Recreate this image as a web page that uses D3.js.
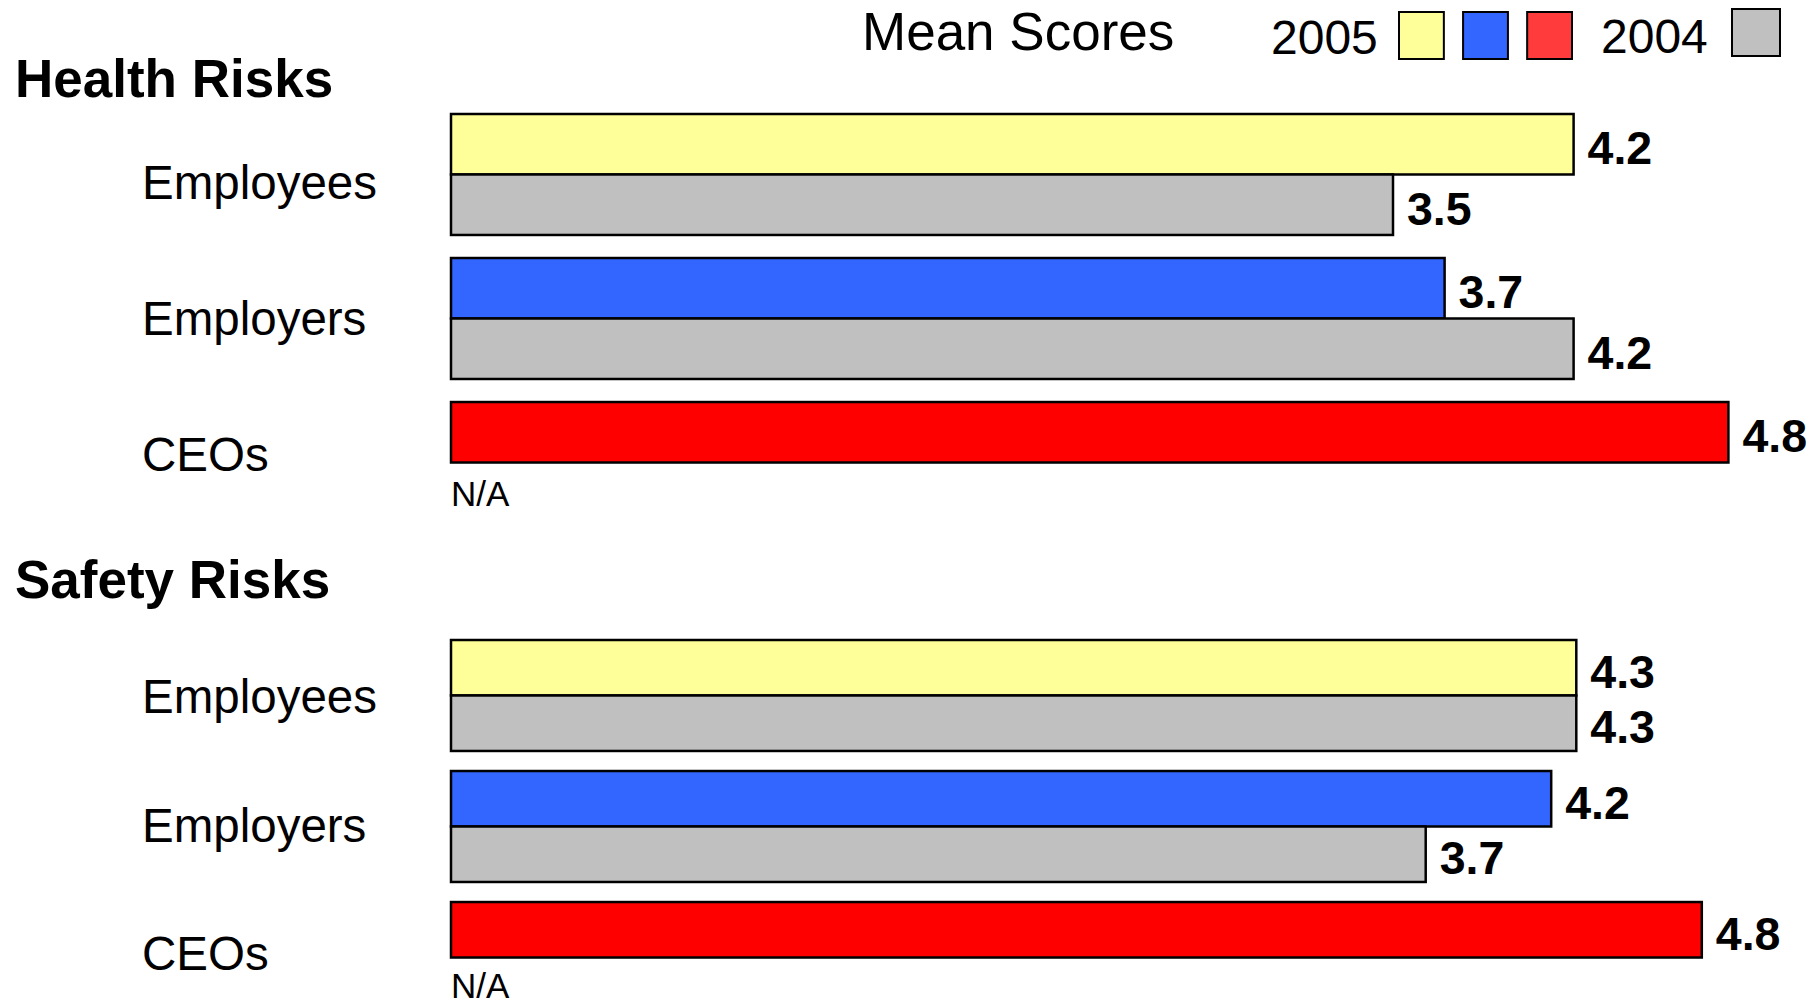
<!DOCTYPE html>
<html>
<head>
<meta charset="utf-8">
<script src="https://cdn.jsdelivr.net/npm/d3@7"></script>
<style>
  html, body { margin: 0; padding: 0; background: #ffffff; }
  svg { display: block; }
  text { font-family: "Liberation Sans", Arial, Helvetica, sans-serif; fill: #000; }
</style>
</head>
<body>
<svg id="chart" width="1815" height="1005"></svg>
<script>
// ---- data ----
const panelTitles = ["Health Risks", "Safety Risks"];
const categories = ["Employees", "Employers", "CEOs"];
const years = ["2005", "2004"];
const health2005 = [4.2, 3.7, 4.8];
const health2004 = [3.5, 4.2, null];
const safety2005 = [4.3, 4.2, 4.8];
const safety2004 = [4.3, 3.7, null];
const colors2005 = ["#FFFF99", "#3366FF", "#FF0000"];
const color2004 = "#C0C0C0";
const legendColors2005 = ["#FFFF99", "#3366FF", "#FF3B3B"];
const chartTitle = "Mean Scores";
const missingLabel = "N/A";

// ---- layout ----
const plotLeft = 451;
const panels = [
  { title: panelTitles[0], v05: health2005, v04: health2004,
    titleY: 97, bandRange: [114, 523], padInner: 0.16, xRange: [490, 1780],
    labelRange: [182, 454] },
  { title: panelTitles[1], v05: safety2005, v04: safety2004,
    titleY: 598, bandRange: [640, 1013], padInner: 0.153, xRange: [497, 1752],
    labelRange: [696, 953] }
];

const svg = d3.select("#chart");

// legend / header
svg.append("text").attr("x", 862).attr("y", 50)
  .attr("font-size", 53).text(chartTitle);
svg.append("text").attr("x", 1271).attr("y", 54)
  .attr("font-size", 48).text(years[0]);
const legendX = d3.scaleBand().domain(d3.range(3)).range([1399, 1572]).paddingInner(0.3);
svg.selectAll("rect.leg05").data(legendColors2005).join("rect")
  .attr("class", "leg05")
  .attr("x", (d, i) => legendX(i)).attr("y", 12)
  .attr("width", legendX.bandwidth()).attr("height", 47)
  .attr("fill", d => d).attr("stroke", "#000").attr("stroke-width", 2);
svg.append("text").attr("x", 1601).attr("y", 53)
  .attr("font-size", 48).text(years[1]);
svg.append("rect").attr("x", 1732).attr("y", 9)
  .attr("width", 48).attr("height", 47)
  .attr("fill", color2004).attr("stroke", "#000").attr("stroke-width", 2);

panels.forEach(p => {
  const g = svg.append("g");
  const y = d3.scaleBand().domain(categories).range(p.bandRange)
    .paddingInner(p.padInner).paddingOuter(0);
  const ySub = d3.scaleBand().domain(years).range([0, y.bandwidth()]);
  const x = d3.scaleLinear().domain([0, 5]).range(p.xRange);
  const yLabel = d3.scalePoint().domain(categories).range(p.labelRange);

  g.append("text").attr("x", 15).attr("y", p.titleY)
    .attr("font-size", 53).attr("font-weight", "bold").text(p.title);

  g.selectAll("text.cat").data(categories).join("text")
    .attr("class", "cat")
    .attr("x", 142)
    .attr("y", d => yLabel(d) + 17)
    .attr("font-size", 47.5)
    .text(d => d);

  const rows = [];
  categories.forEach((c, i) => {
    rows.push({ cat: c, year: years[0], v: p.v05[i], color: colors2005[i] });
    rows.push({ cat: c, year: years[1], v: p.v04[i], color: color2004 });
  });
  const present = rows.filter(r => r.v != null);
  const missing = rows.filter(r => r.v == null);

  g.selectAll("rect.bar").data(present).join("rect")
    .attr("class", "bar")
    .attr("x", plotLeft)
    .attr("y", d => y(d.cat) + ySub(d.year))
    .attr("width", d => x(d.v) - plotLeft)
    .attr("height", ySub.bandwidth())
    .attr("fill", d => d.color)
    .attr("stroke", "#000").attr("stroke-width", 2.5);

  g.selectAll("text.val").data(present).join("text")
    .attr("class", "val")
    .attr("x", d => x(d.v) + 14)
    .attr("y", d => y(d.cat) + ySub(d.year) + ySub.bandwidth() / 2 + 20)
    .attr("font-size", 46.5).attr("font-weight", "bold")
    .text(d => d3.format(".1f")(d.v));

  g.selectAll("text.na").data(missing).join("text")
    .attr("class", "na")
    .attr("x", plotLeft)
    .attr("y", d => y(d.cat) + ySub(d.year) + ySub.bandwidth() / 2 + 13)
    .attr("font-size", 35)
    .text(missingLabel);
});
</script>
</body>
</html>
